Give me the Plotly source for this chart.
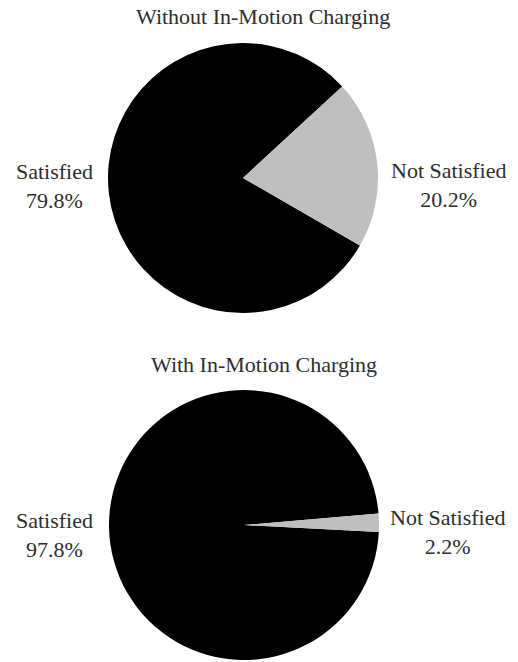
import plotly.graph_objects as go

labels = ["Satisfied", "Not Satisfied"]
titles = ["Without In-Motion Charging", "With In-Motion Charging"]
values_without = [79.8, 20.2]
values_with = [97.8, 2.2]
colors = ["#000000", "#bfbfbf"]

W, H = 518, 662
FONT = "Liberation Serif, Times New Roman, serif"
TXT = "#2e2e2e"

def px_x(x):
    return x / W

def px_y(y):
    return 1 - y / H

fig = go.Figure()
fig.add_trace(go.Pie(
    labels=labels, values=values_without, sort=False, direction="clockwise",
    rotation=120, marker=dict(colors=colors, line=dict(width=0)),
    textinfo="none", hoverinfo="label+percent", showlegend=False,
    domain=dict(x=[px_x(108), px_x(378)], y=[px_y(313), px_y(43)]),
))
fig.add_trace(go.Pie(
    labels=labels, values=values_with, sort=False, direction="clockwise",
    rotation=93, marker=dict(colors=colors, line=dict(width=0)),
    textinfo="none", hoverinfo="label+percent", showlegend=False,
    domain=dict(x=[px_x(109), px_x(379)], y=[px_y(660), px_y(390)]),
))

ann = []
ann.append(dict(text=titles[0], x=px_x(263), y=px_y(17)))
ann.append(dict(text=titles[1], x=px_x(264), y=px_y(364)))
ann.append(dict(text=f"{labels[0]}<br>{values_without[0]}%", x=px_x(54), y=px_y(186)))
ann.append(dict(text=f"{labels[1]}<br>{values_without[1]}%", x=px_x(449), y=px_y(185)))
ann.append(dict(text=f"{labels[0]}<br>{values_with[0]}%", x=px_x(54), y=px_y(535)))
ann.append(dict(text=f"{labels[1]}<br>{values_with[1]}%", x=px_x(448), y=px_y(532)))
for a in ann:
    a.update(xref="paper", yref="paper", showarrow=False, xanchor="center", yanchor="middle",
             font=dict(family=FONT, size=22, color=TXT))

fig.update_layout(
    width=W, height=H, margin=dict(l=0, r=0, t=0, b=0),
    paper_bgcolor="white", plot_bgcolor="white",
    annotations=ann,
)
fig.write_html("out.html")
